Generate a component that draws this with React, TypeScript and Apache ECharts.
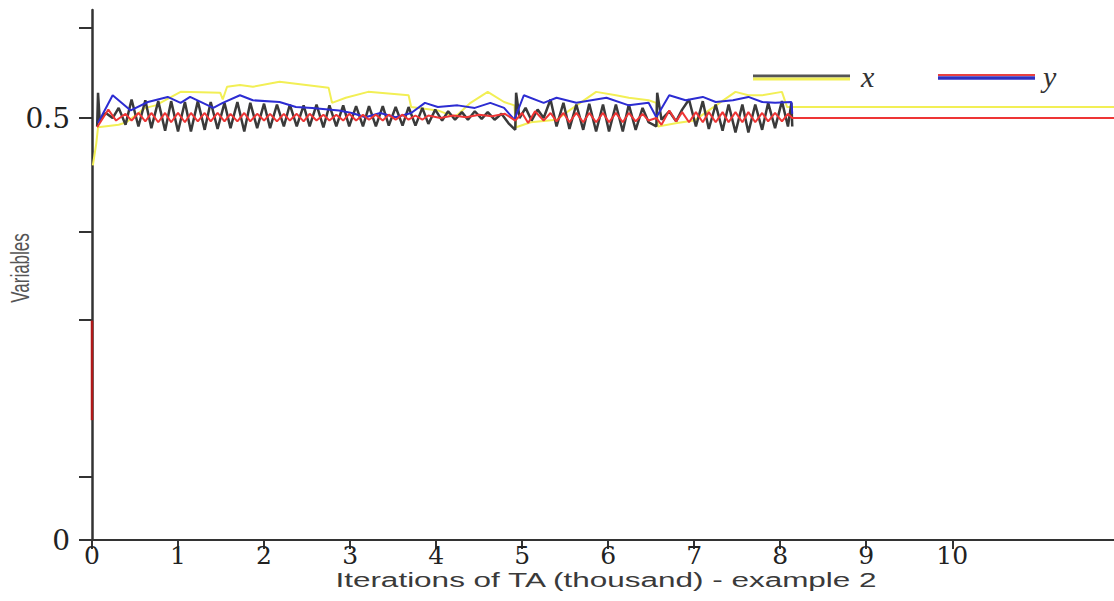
import React, { useEffect, useRef } from "react";
import * as echarts from "echarts";

// ---- axis ticks / labels ----
const xTickValues = [0, 1, 2, 3, 4, 5, 6, 7, 8, 9, 10];
const yTickValues = [0, 0.075, 0.261, 0.365, 0.5, 0.607];
const yLabelValues = [0, 0.5];

// ---- series (x = iterations in thousands, y = variable value) ----
const xYellow: number[][] = [
  [0.01, 0.444], [0.05, 0.47], [0.07, 0.489], [0.31, 0.492], [0.4, 0.495], [0.62, 0.512],
  [0.74, 0.515], [1.03, 0.531], [1.49, 0.53], [1.52, 0.522], [1.57, 0.537], [1.72, 0.539],
  [1.87, 0.537], [2.18, 0.543], [2.75, 0.536], [2.79, 0.518], [2.95, 0.524], [3.21, 0.531],
  [3.68, 0.527], [3.71, 0.513], [4.02, 0.509], [4.2, 0.502], [4.25, 0.504], [4.4, 0.518],
  [4.6, 0.531], [4.79, 0.519], [4.91, 0.515], [4.93, 0.489], [5.1, 0.495], [5.4, 0.498],
  [5.55, 0.509], [5.86, 0.531], [6.09, 0.527], [6.24, 0.524], [6.47, 0.521], [6.56, 0.518],
  [6.58, 0.49], [6.8, 0.494], [7.0, 0.497], [7.17, 0.509], [7.48, 0.531], [7.63, 0.527],
  [7.79, 0.527], [8.02, 0.531], [8.08, 0.513], [11.88, 0.513],
];

const xBlack: number[][] = [
  [0.06, 0.49], [0.07, 0.53], [0.09, 0.497], [0.16, 0.506], [0.24, 0.5], [0.31, 0.512],
  [0.39, 0.492], [0.46, 0.522], [0.54, 0.49], [0.62, 0.521], [0.69, 0.488], [0.77, 0.52],
  [0.85, 0.485], [0.92, 0.52], [1.0, 0.484], [1.08, 0.519], [1.15, 0.484], [1.23, 0.52],
  [1.31, 0.486], [1.38, 0.519], [1.46, 0.487], [1.54, 0.518], [1.61, 0.488], [1.69, 0.519],
  [1.77, 0.484], [1.84, 0.518], [1.92, 0.488], [2.0, 0.517], [2.07, 0.488], [2.15, 0.516],
  [2.23, 0.49], [2.3, 0.516], [2.38, 0.49], [2.46, 0.515], [2.53, 0.49], [2.61, 0.516],
  [2.69, 0.489], [2.76, 0.515], [2.84, 0.49], [2.92, 0.515], [2.99, 0.49], [3.07, 0.514],
  [3.15, 0.49], [3.22, 0.514], [3.3, 0.49], [3.38, 0.514], [3.45, 0.491], [3.53, 0.513],
  [3.61, 0.491], [3.68, 0.513], [3.76, 0.491], [3.84, 0.512], [3.91, 0.493], [3.99, 0.51],
  [4.07, 0.497], [4.14, 0.508], [4.22, 0.498], [4.3, 0.507], [4.37, 0.498], [4.45, 0.508],
  [4.53, 0.499], [4.6, 0.507], [4.68, 0.498], [4.76, 0.505], [4.84, 0.494], [4.92, 0.486],
  [4.93, 0.53], [4.97, 0.5], [5.04, 0.512], [5.11, 0.497], [5.18, 0.51], [5.25, 0.5],
  [5.33, 0.522], [5.4, 0.49], [5.48, 0.518], [5.55, 0.487], [5.63, 0.516], [5.71, 0.486],
  [5.78, 0.517], [5.86, 0.484], [5.94, 0.516], [6.01, 0.484], [6.09, 0.516], [6.17, 0.484],
  [6.24, 0.516], [6.32, 0.486], [6.4, 0.512], [6.47, 0.495], [6.56, 0.49], [6.57, 0.53],
  [6.62, 0.498], [6.71, 0.508], [6.79, 0.496], [6.86, 0.51], [6.94, 0.522], [7.02, 0.49],
  [7.1, 0.52], [7.17, 0.487], [7.25, 0.516], [7.33, 0.485], [7.4, 0.516], [7.48, 0.483],
  [7.56, 0.516], [7.63, 0.483], [7.71, 0.516], [7.79, 0.486], [7.86, 0.518], [7.94, 0.488],
  [8.02, 0.52], [8.09, 0.49], [8.13, 0.518], [8.14, 0.49],
];

const yBlue: number[][] = [
  [0.07, 0.494], [0.24, 0.527], [0.45, 0.509], [0.65, 0.519], [0.88, 0.525], [1.03, 0.518],
  [1.14, 0.525], [1.41, 0.512], [1.52, 0.518], [1.72, 0.527], [1.87, 0.521], [2.18, 0.519],
  [2.37, 0.513], [2.56, 0.512], [2.87, 0.509], [3.02, 0.506], [3.18, 0.501], [3.35, 0.506],
  [3.53, 0.501], [3.71, 0.506], [3.87, 0.518], [4.02, 0.513], [4.25, 0.515], [4.45, 0.512],
  [4.63, 0.518], [4.79, 0.512], [4.91, 0.498], [5.02, 0.527], [5.25, 0.518], [5.4, 0.524],
  [5.63, 0.518], [5.98, 0.524], [6.24, 0.515], [6.47, 0.518], [6.56, 0.501], [6.71, 0.527],
  [6.9, 0.521], [7.1, 0.525], [7.25, 0.519], [7.45, 0.521], [7.63, 0.525], [7.79, 0.519],
  [7.94, 0.518], [8.13, 0.519], [8.14, 0.505],
];

const yRedStart: number[][] = [[0, 0.142], [0, 0.26]];

const yRed: number[][] = [
  [0.06, 0.489], [0.19, 0.51], [0.28, 0.497], [0.39, 0.505], [0.46, 0.497], [0.54, 0.506],
  [0.62, 0.496], [0.69, 0.506], [0.77, 0.495], [0.85, 0.506], [0.92, 0.495], [1.0, 0.506],
  [1.08, 0.495], [1.15, 0.506], [1.23, 0.496], [1.31, 0.506], [1.38, 0.496], [1.46, 0.506],
  [1.54, 0.496], [1.61, 0.505], [1.69, 0.496], [1.77, 0.506], [1.84, 0.496], [1.92, 0.505],
  [2.0, 0.497], [2.07, 0.505], [2.15, 0.496], [2.23, 0.505], [2.3, 0.497], [2.38, 0.505],
  [2.46, 0.496], [2.53, 0.505], [2.61, 0.497], [2.69, 0.504], [2.76, 0.497], [2.84, 0.504],
  [2.92, 0.497], [2.99, 0.505], [3.07, 0.497], [3.15, 0.504], [3.22, 0.498], [3.3, 0.504],
  [3.38, 0.497], [3.45, 0.504], [3.53, 0.498], [3.61, 0.504], [3.68, 0.498], [3.76, 0.503],
  [3.84, 0.498], [3.91, 0.503], [4.05, 0.5], [4.2, 0.503], [4.35, 0.501], [4.5, 0.504],
  [4.65, 0.502], [4.8, 0.505], [4.92, 0.497], [5.0, 0.506], [5.07, 0.494], [5.15, 0.508],
  [5.25, 0.497], [5.33, 0.506], [5.4, 0.496], [5.48, 0.506], [5.55, 0.495], [5.63, 0.506],
  [5.71, 0.495], [5.78, 0.506], [5.86, 0.495], [5.94, 0.506], [6.01, 0.495], [6.09, 0.506],
  [6.17, 0.495], [6.24, 0.506], [6.32, 0.496], [6.4, 0.505], [6.47, 0.497], [6.56, 0.5],
  [6.62, 0.492], [6.71, 0.509], [6.79, 0.496], [6.86, 0.507], [6.94, 0.495], [7.02, 0.507],
  [7.1, 0.495], [7.17, 0.507], [7.25, 0.495], [7.33, 0.507], [7.4, 0.495], [7.48, 0.507],
  [7.56, 0.495], [7.63, 0.507], [7.71, 0.495], [7.79, 0.506], [7.86, 0.496], [7.94, 0.506],
  [8.02, 0.496], [8.09, 0.505], [8.14, 0.5], [11.88, 0.5],
];

const legendLabels = ["x", "y"];
const xAxisTitle = "Iterations of TA (thousand) - example 2";
const yAxisTitle = "Variables";

export default function App() {
  const ref = useRef<HTMLDivElement>(null);

  useEffect(() => {
    if (!ref.current) return;
    const chart = echarts.init(ref.current, null, { renderer: "svg" });
    const lineSeries = (name: string, data: number[][], color: string, width: number, z: number) => ({
      type: "line",
      name,
      data,
      showSymbol: false,
      symbol: "none",
      lineStyle: { color, width },
      itemStyle: { color },
      z,
      clip: true,
    });
    chart.setOption({
      animation: false,
      backgroundColor: "#ffffff",
      grid: { left: 92, right: 0, top: 10, bottom: 61 },
      xAxis: {
        type: "value",
        min: 0,
        max: 11.88,
        interval: 1,
        splitLine: { show: false },
        axisLine: { show: true, onZero: false, lineStyle: { color: "#333", width: 2 } },
        axisTick: { show: true, length: 9, customValues: xTickValues, lineStyle: { color: "#333", width: 2 } },
        axisLabel: {
          customValues: xTickValues,
          margin: 3,
          fontFamily: "DejaVu Serif",
          fontSize: 25,
          color: "#222",
          formatter: (v: number) => String(v),
        },
      },
      yAxis: {
        type: "value",
        min: 0,
        max: 0.628,
        splitLine: { show: false },
        axisLine: { show: true, onZero: false, lineStyle: { color: "#333", width: 2.5 } },
        axisTick: { show: true, length: 13, customValues: yTickValues, lineStyle: { color: "#333", width: 2 } },
        axisLabel: {
          customValues: yLabelValues,
          margin: 22,
          fontFamily: "DejaVu Serif",
          fontSize: 28,
          color: "#222",
          formatter: (v: number) => String(v),
        },
      },
      series: [
        lineSeries("x", xYellow, "#f2ef55", 2, 2),
        lineSeries("x", xBlack, "#3a3a3a", 2.5, 3),
        lineSeries("y", yBlue, "#2c2cd2", 2, 4),
        lineSeries("y", yRedStart, "#b01818", 2.5, 5),
        lineSeries("y", yRed, "#ee3535", 2, 5),
      ],
      graphic: [
        { type: "line", shape: { x1: 753, y1: 76, x2: 850, y2: 76 }, style: { stroke: "#555", lineWidth: 3 } },
        { type: "line", shape: { x1: 753, y1: 79, x2: 850, y2: 79 }, style: { stroke: "#f2ef55", lineWidth: 3 } },
        {
          type: "text",
          x: 861,
          y: 76,
          style: { text: legendLabels[0], font: "italic 30px 'Liberation Serif'", fill: "#333", verticalAlign: "middle", align: "left" },
        },
        { type: "line", shape: { x1: 938, y1: 75, x2: 1035, y2: 75 }, style: { stroke: "#e84040", lineWidth: 2 } },
        { type: "line", shape: { x1: 938, y1: 78, x2: 1035, y2: 78 }, style: { stroke: "#3030c0", lineWidth: 3.5 } },
        {
          type: "text",
          x: 1043,
          y: 76,
          style: { text: legendLabels[1], font: "italic 30px 'Liberation Serif'", fill: "#333", verticalAlign: "middle", align: "left" },
        },
        {
          type: "text",
          x: 606,
          y: 580,
          scaleX: 1.5,
          style: { text: xAxisTitle, font: "21px 'Liberation Sans'", fill: "#3a3a3a", align: "center", verticalAlign: "middle" },
        },
        {
          type: "text",
          x: 20,
          y: 268,
          rotation: Math.PI / 2,
          scaleY: 1.5,
          style: { text: yAxisTitle, font: "17px 'Liberation Sans'", fill: "#555", align: "center", verticalAlign: "middle" },
        },
      ],
    });
    return () => chart.dispose();
  }, []);

  return (
    <div
      ref={ref}
      style={{ position: "fixed", left: 0, top: 0, width: 1114, height: 601, background: "#fff" }}
    />
  );
}
